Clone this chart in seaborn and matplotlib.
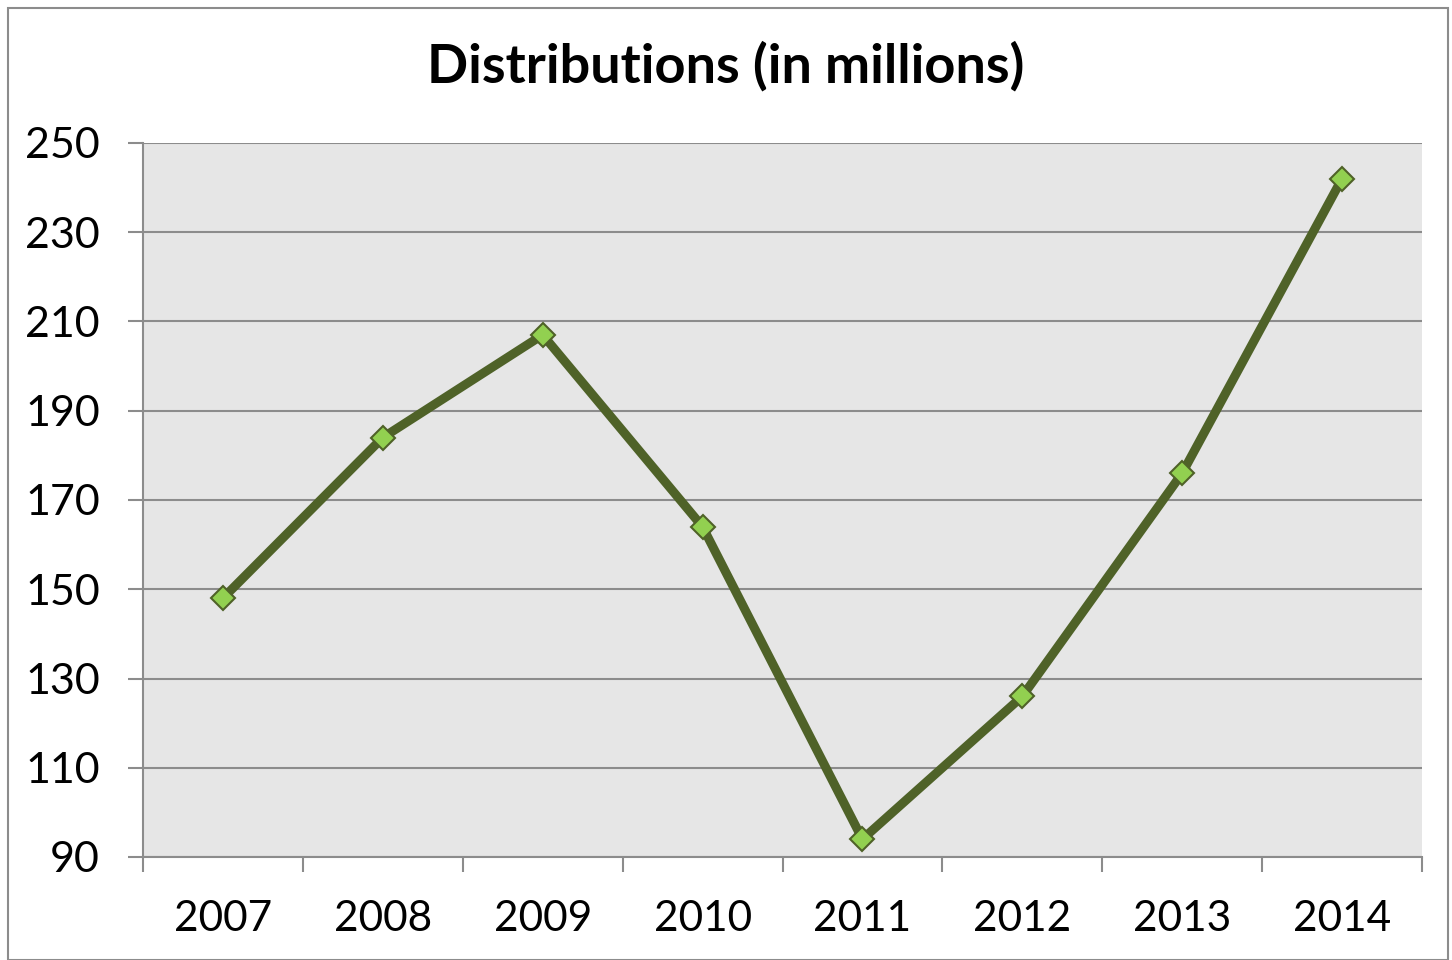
import matplotlib
matplotlib.use("Agg")
import matplotlib.pyplot as plt
import seaborn as sns
import pandas as pd
from matplotlib.patches import Rectangle

years = ["2007", "2008", "2009", "2010", "2011", "2012", "2013", "2014"]
values = [148, 184, 207, 164, 94, 126, 176, 242]
yticks = [90, 110, 130, 150, 170, 190, 210, 230, 250]

sns.set_theme(style="white")
plt.rcParams['font.family'] = ['Lato', 'DejaVu Sans']
plt.rcParams['text.color'] = 'black'
plt.rcParams['xtick.color'] = 'black'
plt.rcParams['ytick.color'] = 'black'

df = pd.DataFrame({"year": years, "value": values})
df["pos"] = range(len(years))

fig = plt.figure(figsize=(14.52, 9.6), dpi=100)
ax = fig.add_axes([143/1452, 1-857/960, (1422-143)/1452, (857-143)/960])
ax.set_facecolor("#E6E6E6")

sns.lineplot(data=df, x="pos", y="value", ax=ax, color="#4F6228", linewidth=6.5,
             marker="D", markersize=12, markerfacecolor="#92D050",
             markeredgecolor="#4F6228", markeredgewidth=1.5, zorder=3)

ax.set_xlim(-0.5, len(years) - 0.5)
ax.set_ylim(90, 250)
ax.set_yticks(yticks)
ax.set_yticklabels([str(v) for v in yticks], fontsize=31)
ax.set_xticks([i - 0.5 for i in range(len(years) + 1)])
ax.set_xticklabels([])
ax.set_xticks(range(len(years)), minor=True)
ax.set_xticklabels(years, minor=True, fontsize=30.5)
ax.tick_params(axis="x", which="major", direction="out", length=11, width=1.5, color="#8C8C8C", bottom=True)
ax.tick_params(axis="x", which="minor", length=0, pad=31, bottom=True)
ax.tick_params(axis="y", direction="out", length=11, width=1.5, color="#8C8C8C", left=True, pad=20)
ax.grid(axis="y", color="#8C8C8C", linewidth=1.5)
ax.set_axisbelow(True)
for s in ["top", "right"]:
    ax.spines[s].set_visible(False)
for s in ["left", "bottom"]:
    ax.spines[s].set_color("#8C8C8C")
    ax.spines[s].set_linewidth(1.5)
ax.set_xlabel("")
ax.set_ylabel("")

fig.text(0.5, 1 - 66/960, "Distributions (in millions)", ha="center", va="center",
         fontsize=39, fontweight="bold", color="black")

fig.patches.append(Rectangle((8/1452, 0), (1448-8)/1452, 1 - 8/960, transform=fig.transFigure,
                             fill=False, edgecolor="#8C8C8C", linewidth=1.5))

fig.savefig("out.png", dpi=100)
